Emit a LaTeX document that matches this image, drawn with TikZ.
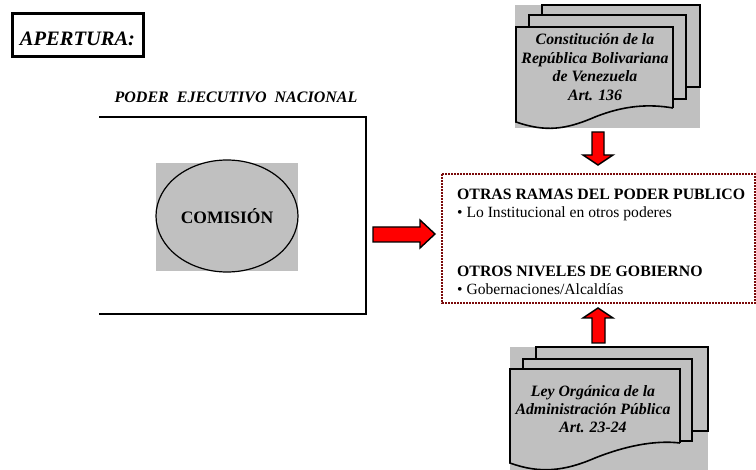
\documentclass[tikz,border=0pt]{standalone}
\usepackage{fontspec}
\setmainfont{Liberation Serif}
\usetikzlibrary{shapes.geometric}
\begin{document}
\begin{tikzpicture}[x=1pt,y=-1pt,
  docfill/.style={fill=docgray, draw=black, line width=1.6pt, line join=miter},
  shadowbg/.style={fill=docgray, draw=none},
  redarrow/.style={fill=red, draw=black, line width=1.4pt, line join=miter},
  bititle/.style={font=\fontsize{16}{18}\selectfont\bfseries\itshape, inner sep=0pt},
  doctext/.style={font=\fontsize{15.8}{18}\selectfont\bfseries\itshape, inner sep=0pt, anchor=base},
  headtext/.style={font=\fontsize{15.8}{18}\selectfont\bfseries, inner sep=0pt, anchor=base west},
  itemtext/.style={font=\fontsize{15.6}{18}\selectfont, inner sep=0pt, anchor=base west}]
\definecolor{docgray}{HTML}{C0C0C0}
\definecolor{darkmaroon}{HTML}{7A0A0A}
\useasboundingbox (0,0) rectangle (756,470);

% title box
\draw[line width=3pt] (12,14) rectangle (143,57);
\node[font=\fontsize{20.5}{22}\selectfont\bfseries\itshape, inner sep=0pt, anchor=base] (apertura) at (77.5,46) {APERTURA:};

% executive branch bracket
\node[bititle, anchor=base] (poder) at (236,103) {PODER\ \ EJECUTIVO\ \ NACIONAL};
\draw[line width=2pt] (99,117) -- (366,117) -- (366,314) -- (99,314);

% commission
\fill[docgray] (156,163) rectangle (298,271);
\node[draw=black, line width=1.2pt, ellipse, fill=docgray, minimum width=142pt, minimum height=112pt, inner sep=0pt,
  font=\fontsize{17.5}{19}\selectfont\bfseries] (comision) at (227,216) {COMISIÓN};

% arrow towards the other branches
\draw[redarrow] (373,227) -- (420,227) -- (420,220) -- (435,234) -- (420,248) -- (420,242) -- (373,242) -- cycle;

% other branches box
\draw[darkmaroon, line width=2pt, dash pattern=on 2pt off 1pt] (442,174) rectangle (755,303);
\node[headtext] (ramas) at (457,200) {OTRAS RAMAS DEL PODER PUBLICO};
\node[itemtext] (inst) at (457,218) {\textbullet\ Lo Institucional en otros poderes};
\node[headtext] (niveles) at (457,277) {OTROS NIVELES DE GOBIERNO};
\node[itemtext] (gob) at (457,295) {\textbullet\ Gobernaciones/Alcaldías};

% constitution document stack
\fill[shadowbg] (515,5) rectangle (700,128);
\draw[docfill] (542,5) rectangle (700,87);
\draw[docfill] (529,15) rectangle (686,99);
\draw[docfill] (673,108) -- (673,27) -- (516,27) -- (516,122)
  .. controls (545,132) and (565,130) .. (595,117)
  .. controls (625,105) and (650,104) .. (673,108);
\node[doctext] (c1) at (595,45) {Constitución de la};
\node[doctext] (c2) at (595,63.5) {República Bolivariana};
\node[doctext] (c3) at (595,82) {de Venezuela};
\node[doctext] (c4) at (595,100.5) {Art. 136};

\draw[redarrow] (592,132) -- (604,132) -- (604,155) -- (613,155) -- (598,165) -- (583,155) -- (592,155) -- cycle;

% organic law document stack
\fill[shadowbg] (510,347) rectangle (708,470);
\draw[docfill] (536,347) rectangle (708,431);
\draw[docfill] (523,359) rectangle (692,441);
\draw[docfill] (680,443) -- (680,369) -- (510,369) -- (510,463)
  .. controls (540,474) and (565,471) .. (595,458)
  .. controls (625,446) and (655,440) .. (680,443);
\node[doctext] (l1) at (593,397) {Ley Orgánica de la};
\node[doctext] (l2) at (593,415) {Administración Pública};
\node[doctext] (l3) at (593,433) {Art. 23-24};

\draw[redarrow] (598,308) -- (613,318) -- (605,318) -- (605,343) -- (592,343) -- (592,318) -- (583,318) -- cycle;
\end{tikzpicture}
\end{document}
